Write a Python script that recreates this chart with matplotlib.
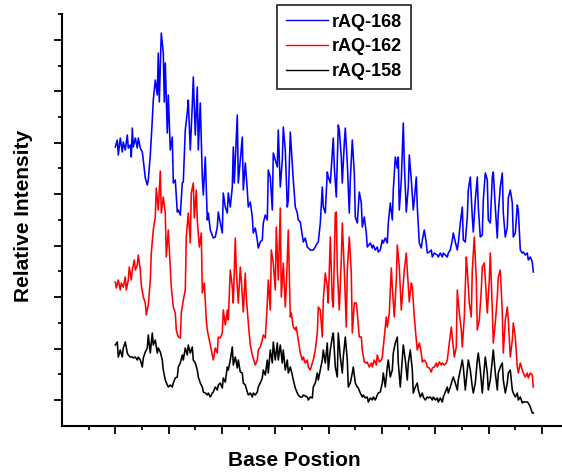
import matplotlib
matplotlib.use("Agg")
import matplotlib.pyplot as plt
from matplotlib.ticker import MultipleLocator

# base position / relative intensity (arbitrary units)
x168 = [0, 2, 3, 5, 7, 8, 10, 12, 13, 15, 16, 17, 18, 20, 22, 23, 25, 27, 28, 30,
        32, 33, 35, 37, 38, 40, 42, 43, 44, 46, 48, 49, 50, 52, 53, 55, 57, 58, 60, 62,
        63, 65, 67, 68, 70, 72, 73, 75, 77, 78, 80, 82, 83, 85, 87, 88, 90, 92, 93, 95,
        98, 100, 102, 103, 105, 107, 108, 110, 112, 113, 115, 117, 118, 119, 122, 123, 125, 127, 128, 130,
        132, 133, 135, 137, 138, 140, 142, 143, 145, 147, 148, 150, 152, 153, 155, 157, 158, 160, 162, 163,
        165, 167, 168, 170, 172, 173, 175, 177, 178, 180, 182, 183, 185, 187, 188, 190, 192, 195, 198, 200,
        202, 203, 205, 207, 208, 210, 212, 213, 215, 217, 218, 219, 221, 223, 224, 226, 227, 229, 230, 232,
        234, 235, 237, 239, 240, 242, 244, 246, 247, 249, 251, 252, 255, 257, 258, 260, 262, 263, 265, 267,
        268, 270, 272, 273, 275, 277, 278, 280, 282, 283, 284, 286, 288, 289, 291, 293, 294, 296, 298, 299,
        301, 302, 304, 306, 307, 309, 311, 312, 314, 316, 317, 319, 322, 323, 325, 327, 328, 330, 332, 333,
        335, 337, 338, 340, 342, 343, 345, 347, 348, 350, 352, 353, 355, 357, 358, 360, 362, 363, 365, 367,
        368, 370, 372, 373, 375, 377, 378, 380, 382, 383, 385, 387, 388, 390, 392, 393, 395, 397, 398, 400,
        402, 403, 405, 407, 408, 410, 412, 413, 415, 417, 418]
y168 = [253, 260, 245, 262, 248, 258, 250, 265, 252, 255, 243, 272, 253, 262, 252, 262, 252, 248, 240, 222,
        215, 220, 245, 280, 300, 320, 305, 347, 298, 367, 347, 298, 337, 267, 305, 250, 263, 217, 220, 188,
        190, 185, 217, 218, 270, 288, 300, 250, 295, 323, 265, 313, 250, 297, 223, 205, 243, 180, 187, 170,
        162, 163, 173, 188, 177, 167, 207, 193, 187, 207, 193, 213, 253, 217, 285, 217, 240, 263, 210, 237,
        210, 193, 198, 183, 167, 172, 160, 152, 158, 160, 177, 185, 180, 230, 223, 190, 247, 240, 233, 270,
        213, 240, 273, 250, 193, 200, 268, 237, 220, 193, 187, 180, 178, 165, 158, 162, 153, 150, 150, 153,
        157, 158, 177, 213, 193, 187, 228, 223, 217, 247, 262, 233, 203, 275, 270, 243, 217, 257, 272, 237,
        187, 220, 260, 227, 183, 177, 208, 197, 173, 183, 167, 153, 157, 152, 155, 150, 153, 148, 150, 160,
        157, 162, 157, 177, 197, 180, 210, 243, 232, 243, 190, 220, 277, 237, 188, 213, 245, 220, 190, 200,
        223, 193, 157, 152, 160, 170, 157, 147, 148, 150, 143, 147, 145, 143, 147, 143, 147, 145, 143, 147,
        150, 160, 167, 158, 150, 157, 177, 193, 160, 158, 183, 210, 223, 183, 168, 200, 223, 193, 163, 165,
        200, 227, 220, 180, 177, 223, 228, 193, 162, 187, 213, 227, 187, 163, 173, 202, 210, 197, 163, 167,
        195, 190, 150, 147, 148, 145, 147, 140, 143, 138, 128]

x162 = [0, 1, 3, 5, 6, 8, 10, 11, 13, 14, 16, 17, 19, 20, 22, 23, 25, 26, 28, 30,
        31, 33, 35, 36, 38, 40, 41, 43, 45, 46, 48, 50, 51, 53, 55, 56, 58, 60, 61, 63,
        65, 66, 68, 70, 71, 73, 75, 76, 78, 79, 81, 82, 84, 86, 87, 89, 91, 92, 94, 96,
        98, 100, 102, 103, 105, 107, 108, 110, 112, 113, 115, 117, 118, 120, 121, 123, 125, 126, 128, 130,
        131, 133, 135, 137, 140, 142, 143, 145, 147, 148, 150, 152, 153, 155, 156, 158, 160, 161, 163, 165,
        166, 168, 170, 171, 173, 175, 176, 178, 180, 181, 183, 185, 187, 188, 190, 192, 193, 195, 197, 198,
        200, 202, 203, 205, 207, 208, 210, 212, 213, 215, 217, 218, 220, 221, 222, 224, 226, 227, 229, 231,
        232, 234, 236, 237, 239, 241, 242, 244, 246, 247, 249, 251, 252, 254, 256, 257, 259, 261, 262, 264,
        266, 267, 269, 271, 272, 274, 276, 277, 279, 281, 282, 284, 286, 287, 289, 291, 292, 294, 296, 297,
        299, 301, 302, 304, 306, 307, 309, 311, 312, 314, 316, 317, 319, 321, 322, 324, 326, 327, 329, 331,
        332, 334, 336, 337, 339, 341, 342, 344, 346, 347, 349, 351, 352, 354, 356, 357, 359, 361, 362, 364,
        366, 367, 369, 371, 372, 374, 375, 377, 378, 380, 382, 383, 385, 387, 388, 390, 392, 393, 395, 397,
        398, 400, 402, 403, 405, 407, 408, 410, 412, 413, 415, 417, 418]
y162 = [118, 112, 120, 110, 117, 113, 123, 110, 120, 133, 120, 130, 140, 130, 135, 145, 130, 115, 103, 97,
        85, 95, 120, 147, 170, 183, 212, 190, 229, 187, 203, 187, 143, 170, 133, 113, 93, 87, 70, 63,
        62, 87, 100, 110, 163, 187, 157, 207, 217, 182, 210, 180, 153, 167, 107, 117, 80, 70, 60, 50,
        40, 52, 47, 63, 62, 67, 90, 75, 90, 80, 130, 113, 97, 162, 130, 97, 133, 120, 88, 127,
        103, 77, 55, 45, 35, 40, 50, 53, 60, 65, 62, 97, 120, 90, 150, 137, 110, 173, 120, 192,
        103, 137, 93, 113, 170, 83, 87, 73, 70, 73, 60, 47, 40, 43, 37, 40, 33, 30, 37, 40,
        50, 67, 93, 90, 63, 100, 127, 113, 97, 163, 100, 93, 187, 188, 130, 90, 140, 177, 130, 73,
        130, 163, 127, 67, 97, 97, 87, 63, 63, 50, 38, 37, 38, 33, 37, 33, 40, 35, 45, 38,
        40, 43, 63, 83, 73, 87, 132, 113, 83, 120, 155, 133, 90, 103, 130, 147, 130, 98, 117, 113,
        83, 60, 50, 57, 47, 38, 40, 37, 33, 32, 28, 32, 33, 37, 33, 38, 35, 37, 35, 37,
        40, 57, 73, 63, 43, 53, 110, 87, 70, 53, 83, 143, 130, 97, 83, 130, 163, 120, 70, 80,
        110, 133, 137, 103, 87, 120, 147, 90, 57, 77, 103, 123, 130, 87, 47, 80, 93, 80, 43, 60,
        77, 63, 33, 27, 37, 30, 27, 23, 27, 22, 27, 25, 13]

x158 = [0, 2, 3, 5, 7, 8, 10, 12, 13, 15, 17, 18, 20, 22, 23, 25, 27, 28, 30, 32,
        33, 35, 37, 38, 40, 42, 43, 45, 47, 48, 50, 52, 53, 55, 57, 58, 60, 62, 63, 65,
        67, 68, 70, 72, 73, 75, 77, 78, 80, 82, 83, 85, 87, 88, 90, 92, 93, 95, 97, 98,
        100, 102, 103, 105, 107, 108, 110, 112, 113, 115, 117, 118, 120, 122, 123, 125, 127, 128, 130, 132,
        133, 135, 137, 138, 140, 142, 143, 145, 147, 148, 150, 152, 153, 155, 157, 158, 160, 162, 163, 165,
        167, 168, 170, 172, 173, 175, 177, 178, 180, 182, 183, 185, 187, 188, 192, 193, 195, 197, 198, 200,
        202, 203, 205, 207, 208, 210, 212, 213, 215, 217, 218, 220, 222, 223, 225, 227, 228, 230, 232, 233,
        235, 237, 238, 240, 242, 243, 245, 247, 248, 250, 252, 253, 255, 257, 258, 260, 262, 263, 265, 267,
        268, 270, 272, 273, 275, 277, 278, 280, 282, 283, 285, 287, 288, 290, 292, 293, 295, 297, 298, 300,
        302, 303, 305, 307, 308, 310, 312, 313, 315, 317, 318, 320, 322, 323, 325, 327, 328, 330, 332, 333,
        335, 337, 338, 340, 342, 343, 345, 347, 348, 350, 352, 353, 355, 357, 358, 360, 362, 363, 365, 367,
        368, 370, 372, 373, 375, 377, 378, 380, 382, 383, 385, 387, 388, 390, 392, 393, 395, 397, 398, 400,
        402, 403, 405, 407, 408, 410, 412, 413, 415, 417, 418]
y158 = [55, 58, 43, 50, 43, 52, 58, 47, 45, 43, 43, 42, 43, 40, 43, 40, 33, 42, 48, 52,
        65, 47, 67, 55, 60, 47, 52, 48, 40, 30, 20, 15, 13, 15, 13, 17, 22, 23, 33, 37,
        45, 40, 52, 45, 55, 47, 53, 40, 37, 30, 23, 17, 13, 8, 7, 5, 7, 3, 7, 8,
        13, 10, 15, 17, 12, 22, 18, 33, 30, 40, 53, 35, 43, 32, 40, 28, 27, 17, 15, 8,
        5, 7, 3, 7, 5, 8, 13, 17, 22, 30, 25, 40, 27, 50, 37, 58, 40, 57, 40, 55,
        37, 50, 30, 40, 27, 33, 25, 20, 12, 7, 5, 3, 3, 5, 3, 0, 3, 2, 13, 17,
        27, 20, 30, 40, 50, 37, 57, 30, 50, 63, 67, 33, 23, 67, 43, 27, 43, 63, 40, 13,
        17, 27, 33, 17, 13, 12, 7, 3, 5, 2, 3, -2, 2, 0, 3, 0, 5, 7, 8, 17,
        27, 13, 33, 40, 23, 30, 47, 57, 63, 37, 13, 40, 55, 40, 20, 37, 50, 30, 7, 13,
        17, 10, 3, 7, 3, 0, 3, 2, 3, 0, 3, 0, 2, -2, 2, -2, 3, 8, 13, 7,
        13, 20, 23, 17, 10, 20, 30, 40, 33, 10, 30, 40, 30, 13, 7, 17, 40, 47, 30, 7,
        20, 43, 27, 10, 20, 40, 50, 27, 10, 27, 33, 37, 20, 7, 17, 27, 30, 10, 7, 3,
        7, 0, 3, -3, -2, -2, -2, -3, -7, -13, -13]

labels = ["rAQ-168", "rAQ-162", "rAQ-158"]
colors = ["blue", "red", "black"]

plt.rcParams["font.family"] = ["Liberation Sans", "DejaVu Sans"]

fig = plt.figure(figsize=(5.62, 4.72), dpi=100)
ax = fig.add_axes([0.1103, 0.0981, 0.8897, 0.8722])

for xs, ys, lab, c in zip([x168, x162, x158], [y168, y162, y158], labels, colors):
    ax.plot(xs, ys, color=c, lw=1.15, label=lab)

ax.set_xlim(-53.3, 446.7)
ax.set_ylim(-25.7, 386)
ax.spines["top"].set_visible(False)
ax.spines["right"].set_visible(False)
ax.spines["left"].set_linewidth(1.5)
ax.spines["bottom"].set_linewidth(1.5)

ax.xaxis.set_major_locator(MultipleLocator(160 / 3))
ax.xaxis.set_minor_locator(MultipleLocator(80 / 3))
ax.yaxis.set_major_locator(MultipleLocator(51.46))
ax.yaxis.set_minor_locator(MultipleLocator(25.73))
ax.tick_params(which="major", direction="out", length=6, width=1.3)
ax.tick_params(which="minor", direction="out", length=3, width=1.3)
ax.set_xticklabels([])
ax.set_yticklabels([])

ax.set_xlabel("Base Postion", fontsize=15, fontweight="bold", va="center")
ax.xaxis.set_label_coords(0.464, -0.085)
ax.set_ylabel("Relative Intensity", fontsize=15, fontweight="bold", va="center")
ax.yaxis.set_label_coords(-0.076, 0.509)

leg = fig.legend(loc="upper left", bbox_to_anchor=(0.493, 0.99), borderaxespad=0,
                 fontsize=13, frameon=True, fancybox=False, edgecolor="black",
                 handlelength=2.3, handletextpad=0.25, labelspacing=0.42, borderpad=0.5)
leg.get_frame().set_linewidth(1.3)
for t in leg.get_texts():
    t.set_fontweight("bold")
for ln in leg.get_lines():
    ln.set_linewidth(1.0)

plt.savefig("out.png", dpi=100)
